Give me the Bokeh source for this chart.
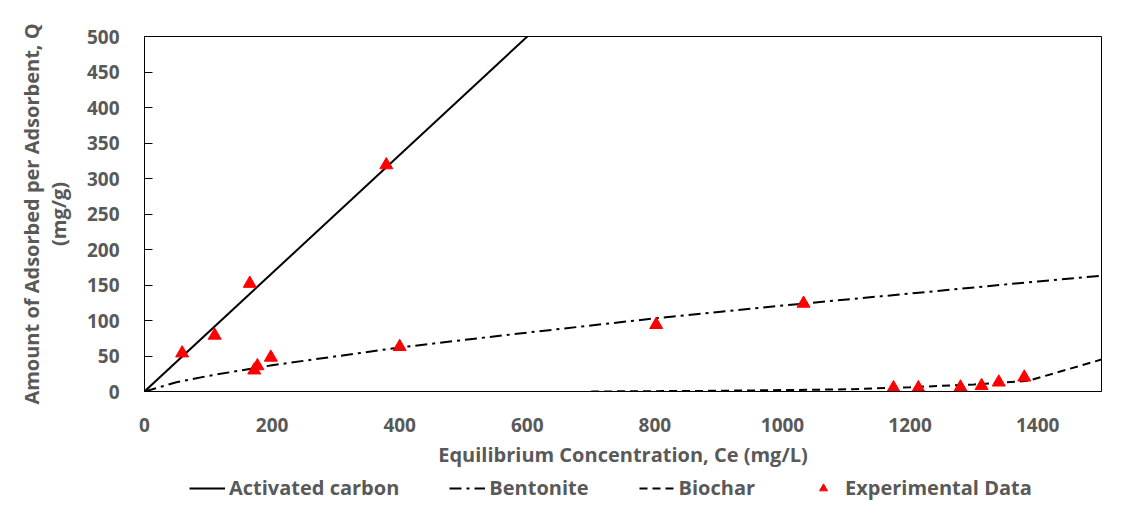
from bokeh.plotting import figure
from bokeh.models import Range1d, Legend, LegendItem, FixedTicker
from bokeh.layouts import column
from bokeh.embed import file_html
from bokeh.resources import INLINE

# Experimental data (Ce in mg/L, Q in mg/g)
ce_exp = [59, 110, 165, 379, 172, 177, 198, 400, 802, 1033, 1174, 1213, 1279, 1312, 1339, 1379]
q_exp = [54, 79, 152, 319, 30, 36, 48, 63, 94, 124, 5, 5, 6, 8, 13, 20]

# Model curves
ac_x = [0, 600]
ac_y = [0, 500]

bent_x = [0, 50, 100, 200, 400, 600, 800, 1000, 1200, 1400, 1500]
bent_y = [0, 13, 22, 37, 62, 83, 103, 121, 138, 155, 163]

bio_x = [700, 900, 1100, 1200, 1300, 1385, 1500]
bio_y = [0, 1, 3, 6, 10, 15, 45]

x_ticks = [0, 200, 400, 600, 800, 1000, 1200, 1400]
y_ticks = [0, 50, 100, 150, 200, 250, 300, 350, 400, 450, 500]

series_names = ["Activated carbon", "Bentonite", "Biochar", "Experimental Data"]

FONT = "Open Sans"
GREY = "#595959"
W = 1118

p = figure(width=W, height=470, output_backend="svg", toolbar_location=None,
           x_range=Range1d(0, 1500), y_range=Range1d(0, 500),
           min_border_left=144, min_border_right=17, min_border_top=36, min_border_bottom=79)

p.xgrid.visible = False
p.ygrid.visible = False
p.outline_line_color = "black"
p.outline_line_width = 1


def draw(fig, visible=True):
    a = fig.line(ac_x, ac_y, line_color="black", line_width=2, visible=visible)
    b = fig.line(bent_x, bent_y, line_color="black", line_width=2, line_dash="12 5 3 5", visible=visible)
    c = fig.line(bio_x, bio_y, line_color="black", line_width=2, line_dash="8 5", visible=visible)
    d = fig.scatter(ce_exp, q_exp, marker="triangle", size=13, fill_color="#FF0000",
                    line_color="#FF0000", visible=visible)
    return [a, b, c, d]


draw(p)

for ax in (p.xaxis[0], p.yaxis[0]):
    ax.axis_line_color = "black"
    ax.major_label_text_font = FONT
    ax.major_label_text_font_style = "bold"
    ax.major_label_text_color = GREY
    ax.major_label_text_font_size = "19px"
    ax.axis_label_text_font = FONT
    ax.axis_label_text_font_style = "bold"
    ax.axis_label_text_color = GREY
    ax.axis_label_text_font_size = "20px"
    ax.minor_tick_line_color = None

p.xaxis.ticker = FixedTicker(ticks=x_ticks)
p.yaxis.ticker = FixedTicker(ticks=y_ticks)
p.xaxis.major_tick_line_color = None
p.xaxis.major_label_standoff = 20
p.xaxis.axis_label = "Equilibrium Concentration, Ce (mg/L)"
p.xaxis.axis_label_standoff = 6

p.yaxis.major_tick_in = 8
p.yaxis.major_tick_out = 0
p.yaxis.major_tick_line_color = "black"
p.yaxis.major_label_standoff = 25
p.yaxis.axis_label = "Amount of Adsorbed per Adsorbent, Q\n(mg/g)"
p.yaxis.axis_label_standoff = 12
p.yaxis.axis_label_text_line_height = 1.0

# Legend strip below the chart (frames are aligned in the column)
lf = figure(width=W, height=31, output_backend="svg", toolbar_location=None,
            x_range=Range1d(0, 1500), y_range=Range1d(0, 500),
            min_border_left=0, min_border_right=0, min_border_top=0, min_border_bottom=0)
lf.axis.visible = False
lf.grid.visible = False
lf.outline_line_color = None
lrs = draw(lf, visible=False)

legend = Legend(items=[LegendItem(label=n, renderers=[r]) for n, r in zip(series_names, lrs)],
                orientation="horizontal", location=(45, 0))
legend.border_line_color = None
legend.background_fill_alpha = 0
legend.padding = 0
legend.margin = 0
legend.spacing = 50
legend.glyph_width = 36
legend.label_standoff = 4
legend.label_text_font = FONT
legend.label_text_font_style = "bold"
legend.label_text_color = GREY
legend.label_text_font_size = "20px"
lf.add_layout(legend, "center")

layout = column(p, lf, spacing=0)
open("out.html", "w").write(file_html(layout, INLINE))
